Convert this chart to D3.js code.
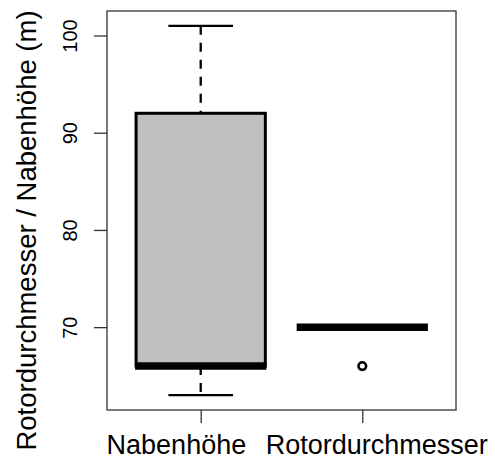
<!DOCTYPE html>
<html>
<head>
<meta charset="utf-8">
<script src="https://cdn.jsdelivr.net/npm/d3@7"></script>
<style>
  html, body { margin: 0; padding: 0; background: #fff; }
  svg { display: block; font-family: "Liberation Sans", Arial, sans-serif; }
</style>
</head>
<body>
<svg id="chart" width="495" height="459"></svg>
<script>
// Data
const categories = ["Nabenhöhe", "Rotordurchmesser"];
const whiskerLow = [63, 70];
const q1 = [66, 70];
const median = [66, 70];
const q3 = [92, 70];
const whiskerHigh = [101, 70];
const outliers = [[], [66]];
const yTicks = [70, 80, 90, 100];
const yTitle = "Rotordurchmesser / Nabenhöhe (m)";

(function () {
const svg = d3.select("#chart");
const mLeft = 107, mRight = 456, mTop = 11, mBottom = 410;

const x = d3.scaleLinear().domain([0.42, 2.58]).range([mLeft, mRight]);
const y = d3.scaleLinear().domain([61.48, 102.52]).range([mBottom, mTop]);
const boxW = x(0.8) - x(0);
const capW = boxW / 2;

const g = svg.append("g");

// Plot frame
g.append("rect")
  .attr("x", mLeft).attr("y", mTop)
  .attr("width", mRight - mLeft).attr("height", mBottom - mTop)
  .attr("fill", "none").attr("stroke", "#333").attr("stroke-width", 1.3);

// Boxes
categories.forEach((c, i) => {
  const cx = x(i + 1);
  if (q3[i] !== whiskerHigh[i]) {
    g.append("line").attr("x1", cx).attr("x2", cx)
      .attr("y1", y(whiskerHigh[i])).attr("y2", y(q3[i]))
      .attr("stroke", "#000").attr("stroke-width", 2.3).attr("stroke-dasharray", "9,8");
    g.append("line").attr("x1", cx - capW / 2).attr("x2", cx + capW / 2)
      .attr("y1", y(whiskerHigh[i])).attr("y2", y(whiskerHigh[i]))
      .attr("stroke", "#000").attr("stroke-width", 2.3);
  }
  if (q1[i] !== whiskerLow[i]) {
    g.append("line").attr("x1", cx).attr("x2", cx)
      .attr("y1", y(q1[i])).attr("y2", y(whiskerLow[i]))
      .attr("stroke", "#000").attr("stroke-width", 2.3).attr("stroke-dasharray", "9,8");
    g.append("line").attr("x1", cx - capW / 2).attr("x2", cx + capW / 2)
      .attr("y1", y(whiskerLow[i])).attr("y2", y(whiskerLow[i]))
      .attr("stroke", "#000").attr("stroke-width", 2.3);
  }
  g.append("rect")
    .attr("x", cx - boxW / 2).attr("y", y(q3[i]))
    .attr("width", boxW).attr("height", Math.max(0, y(q1[i]) - y(q3[i])))
    .attr("fill", "#bfbfbf").attr("stroke", "#000").attr("stroke-width", 3);
  g.append("line")
    .attr("x1", cx - boxW / 2 - 1).attr("x2", cx + boxW / 2 + 1)
    .attr("y1", y(median[i])).attr("y2", y(median[i]))
    .attr("stroke", "#000").attr("stroke-width", 7.5).attr("stroke-linecap", "butt");
  outliers[i].forEach(v => {
    g.append("circle").attr("cx", cx).attr("cy", y(v)).attr("r", 3.8)
      .attr("fill", "none").attr("stroke", "#000").attr("stroke-width", 2.6);
  });
});

// Y axis
const yAxis = d3.axisLeft(y).tickValues(yTicks).tickSize(13).tickPadding(0).tickFormat(d3.format("d"));
const ya = svg.append("g").attr("transform", `translate(${mLeft},0)`).call(yAxis);
ya.select(".domain").attr("stroke", "none");
ya.selectAll(".tick line").attr("stroke", "#333").attr("stroke-width", 1.3);
ya.selectAll(".tick text")
  .attr("font-size", 20).attr("fill", "#000")
  .attr("text-anchor", "middle")
  .attr("transform", "translate(-30,0) rotate(-90)")
  .attr("x", 0).attr("dy", 0).attr("y", 0);

// X axis
const xLabelAnchor = ["end", "start"];
const xLabelShift = [45, -97];
const xAxis = d3.axisBottom(x).tickValues([1, 2]).tickSize(13).tickPadding(0)
  .tickFormat(d => categories[d - 1]);
const xa = svg.append("g").attr("transform", `translate(0,${mBottom})`).call(xAxis);
xa.select(".domain").attr("stroke", "none");
xa.selectAll(".tick line").attr("stroke", "#333").attr("stroke-width", 1.3);
xa.selectAll(".tick text")
  .attr("font-size", 27).attr("fill", "#000")
  .attr("text-anchor", (d, i) => xLabelAnchor[i])
  .attr("x", (d, i) => xLabelShift[i])
  .attr("dy", 0).attr("y", 44);

// Y title
svg.append("text")
  .attr("transform", `translate(36,${(mTop + mBottom) / 2 + 20}) rotate(-90)`)
  .attr("text-anchor", "middle")
  .attr("font-size", 27.5)
  .attr("fill", "#000")
  .text(yTitle);
})();
</script>
</body>
</html>
